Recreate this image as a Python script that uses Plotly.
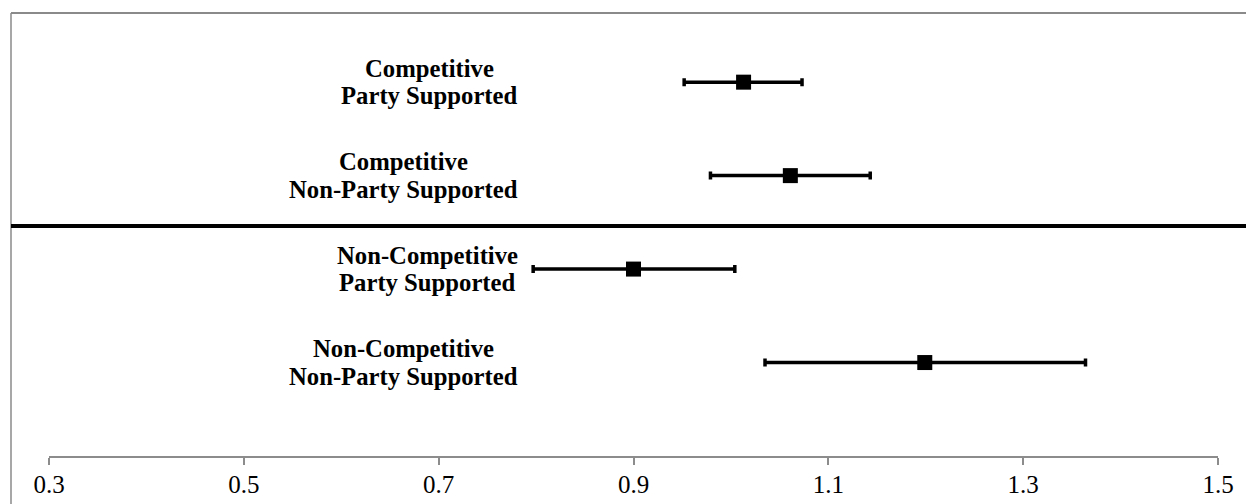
import plotly.graph_objects as go

# Odds-ratio style estimates with 95% intervals, one row per group
groups = [
    "Competitive<br>Party Supported",
    "Competitive<br>Non-Party Supported",
    "Non-Competitive<br>Party Supported",
    "Non-Competitive<br>Non-Party Supported",
]
estimate = [1.013, 1.061, 0.900, 1.199]
lower = [0.952, 0.979, 0.797, 1.035]
upper = [1.073, 1.143, 1.004, 1.364]

x_ticks = [0.3, 0.5, 0.7, 0.9, 1.1, 1.3, 1.5]
x_tick_text = ["0.3", "0.5", "0.7", "0.9", "1.1", "1.3", "1.5"]

rows = list(range(1, len(groups) + 1))
err_plus = [u - e for u, e in zip(upper, estimate)]
err_minus = [e - l for e, l in zip(estimate, lower)]

W, H = 1246, 504
M_L, M_R, M_T, M_B = 49, 28, 13, 48
plot_w = W - M_L - M_R
plot_h = H - M_T - M_B

serif = "Liberation Serif, Times New Roman, serif"

fig = go.Figure()
fig.add_trace(go.Scatter(
    x=estimate,
    y=rows,
    mode="markers",
    marker=dict(symbol="square", size=15, color="black"),
    error_x=dict(
        type="data",
        symmetric=False,
        array=err_plus,
        arrayminus=err_minus,
        color="black",
        thickness=3.5,
        width=4,
    ),
    showlegend=False,
    hoverinfo="skip",
))

# Two-line group labels, each block right-aligned with centred lines
label_font = dict(family=serif, size=24.7, color="black")
block_centre_px = [429.5, 403.5, 427.0, 403.5]
line_gap = 27.3
annotations = []
for r, text, cx in zip(rows, groups, block_centre_px):
    lines = text.split("<br>")
    n = len(lines)
    for i, line in enumerate(lines):
        offset = (i - (n - 1) / 2) * line_gap
        annotations.append(dict(
            x=(cx - M_L) / plot_w,
            xref="paper",
            y=r,
            yref="y",
            text="<b>%s</b>" % line,
            showarrow=False,
            xanchor="center",
            yanchor="middle",
            yshift=-offset,
            font=label_font,
        ))

y_top, y_bottom = 0.26, 5.0
shapes = [
    # chart frame (top and left edges)
    dict(type="line", xref="paper", yref="paper",
         x0=(11 - M_L) / plot_w, x1=(W - M_L) / plot_w, y0=1, y1=1,
         line=dict(color="#8a8a8a", width=2)),
    dict(type="line", xref="paper", yref="paper",
         x0=(11 - M_L) / plot_w, x1=(11 - M_L) / plot_w, y0=1, y1=-M_B / plot_h,
         line=dict(color="#8a8a8a", width=1.5)),
    # divider between competitive and non-competitive groups
    dict(type="line", xref="paper", yref="y",
         x0=(11 - M_L) / plot_w, x1=(W - M_L) / plot_w, y0=2.54, y1=2.54,
         line=dict(color="black", width=4)),
]

fig.update_layout(
    width=W,
    height=H,
    autosize=False,
    margin=dict(l=M_L, r=M_R, t=M_T, b=M_B, pad=0),
    paper_bgcolor="white",
    plot_bgcolor="white",
    annotations=annotations,
    shapes=shapes,
    xaxis=dict(
        range=[0.3, 1.5],
        tickvals=x_ticks,
        ticktext=x_tick_text,
        showline=True,
        linecolor="#8c8c8c",
        linewidth=1.5,
        ticks="outside",
        ticklen=7,
        tickwidth=1.5,
        tickcolor="#8c8c8c",
        showgrid=False,
        zeroline=False,
        automargin=False,
        ticklabelstandoff=-2,
        tickfont=dict(family=serif, size=25, color="black"),
        fixedrange=True,
    ),
    yaxis=dict(
        range=[y_bottom, y_top],
        visible=False,
        automargin=False,
        fixedrange=True,
    ),
)

fig.write_html("out.html")
